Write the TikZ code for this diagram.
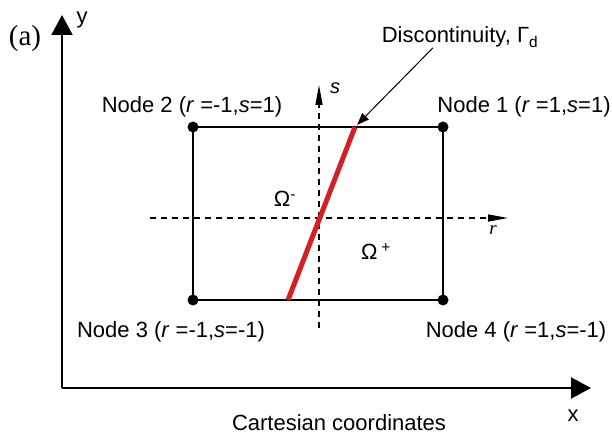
\documentclass[tikz,border=0pt]{standalone}
\usepackage{fontspec}
\setmainfont{Liberation Sans}
\newfontfamily\serifface{Liberation Serif}
\usepackage{xcolor}
\usetikzlibrary{positioning, arrows.meta}

\definecolor{crackred}{RGB}{210,32,36}

\begin{document}
\begin{tikzpicture}[
  x=1pt, y=-1pt,
  corner/.style={circle, fill=black, inner sep=0pt, minimum size=11pt},
  lbl/.style={font=\fontsize{22}{26}\selectfont, inner sep=0pt, anchor=base},
  axis/.style={line width=2pt, -{Triangle[length=20pt,width=21pt]}},
  local/.style={line width=1.3pt, dash pattern=on 6pt off 5pt, -{Triangle[length=20pt,width=7pt]}},
  edge/.style={line width=1.5pt},
  crack/.style={line width=5pt, crackred},
  pointer/.style={line width=1pt, -{Triangle[length=12pt,width=9pt]}}
]
\useasboundingbox (0,0) rectangle (612,435);

% cartesian axes
\coordinate (O) at (62,388);
\coordinate (ytip) at (62,15);
\coordinate (xtip) at (591,388);
\draw[axis] (O) -- (ytip);
\draw[axis] (O) -- (xtip);
\node[lbl] (ylab) at (82,24) {y};
\node[lbl] (xlab) at (573,421) {x};
\node[lbl, font=\serifface\fontsize{29}{33}\selectfont] (tag) at (25,46) {(a)};
\node[lbl] (cart) at (339,430) {Cartesian coordinates};

% element
\node[corner] (n1) at (443,127) {};
\node[corner] (n2) at (193,127) {};
\node[corner] (n3) at (193,300) {};
\node[corner] (n4) at (443,300) {};
\draw[edge] (n1.center) -- (n2.center) -- (n3.center) -- (n4.center) -- cycle;

\node[lbl] (l1) at (524,113) {Node 1 (\textit{r} =1,\textit{s}=1)};
\node[lbl] (l2) at (192,113) {Node 2 (\textit{r} =-1,\textit{s}=1)};
\node[lbl] (l3) at (171,337) {Node 3 (\textit{r} =-1,\textit{s}=-1)};
\node[lbl] (l4) at (516,337) {Node 4 (\textit{r} =1,\textit{s}=-1)};

% natural coordinates
\coordinate (rstart) at (150,218);
\coordinate (rtip) at (508,218);
\coordinate (sstart) at (319,328);
\coordinate (stip) at (319,85);
\draw[local] (rstart) -- (rtip);
\draw[local] (sstart) -- (stip);
\node[lbl, font=\serifface\itshape\fontsize{19}{22}\selectfont] (rlab) at (493,235) {r};
\node[lbl, font=\itshape\fontsize{20}{24}\selectfont] (slab) at (335,94) {s};

% discontinuity
\coordinate (gbot) at (288,300);
\coordinate (gtop) at (355,127);
\draw[crack] (gbot) -- (gtop);
\node[lbl] (disc) at (460,43) {Discontinuity, Γ\textsubscript{d}};
\draw[pointer, shorten >=3pt] ([xshift=-27pt]disc.south) -- (gtop);

\node[lbl] (om) at (285,207) {Ω\textsuperscript{-}};
\node[lbl] (op) at (376,260) {Ω\,\textsuperscript{+}};
\end{tikzpicture}
\end{document}
